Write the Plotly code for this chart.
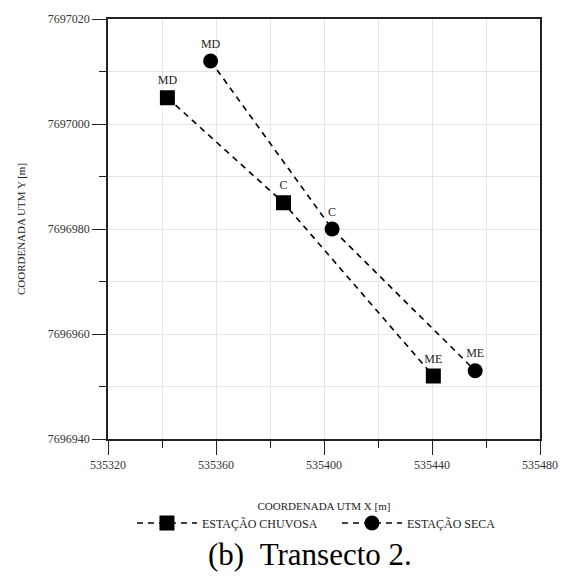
import plotly.graph_objects as go

# Data
labels = ["MD", "C", "ME"]
chuvosa_x = [535342, 535385, 535440.5]
chuvosa_y = [7697005, 7696985, 7696952]
seca_x = [535358, 535403, 535456]
seca_y = [7697012, 7696980, 7696953]

x_range = [535320, 535480]
y_range = [7696940, 7697020]

FONT = "Liberation Serif"

fig = go.Figure()
fig.add_trace(go.Scatter(
    x=chuvosa_x, y=chuvosa_y, mode="lines+markers+text", text=labels,
    textposition="top center", textfont=dict(family=FONT, size=12, color="#222"),
    name="ESTAÇÃO CHUVOSA",
    line=dict(color="black", width=1.6, dash="6px,5px"),
    marker=dict(symbol="square", size=15, color="black"),
))
fig.add_trace(go.Scatter(
    x=seca_x, y=seca_y, mode="lines+markers+text", text=labels,
    textposition="top center", textfont=dict(family=FONT, size=12, color="#222"),
    name="ESTAÇÃO SECA",
    line=dict(color="black", width=1.6, dash="6px,5px"),
    marker=dict(symbol="circle", size=15, color="black"),
))

axis_common = dict(
    showline=True, linecolor="#222", linewidth=1.5, mirror=True,
    showgrid=True, gridcolor="#e6e6e6", gridwidth=1,
    ticks="outside", ticklen=14, tickcolor="#222", tickwidth=1,
    tickfont=dict(family=FONT, size=12, color="#333"),
    zeroline=False,
    tickformat="d",
)

fig.update_xaxes(
    range=x_range, dtick=40, tick0=535320,
    minor=dict(dtick=20, tick0=535320, ticks="outside", ticklen=7, tickcolor="#222",
               showgrid=True, gridcolor="#e6e6e6"),
    title=dict(text="COORDENADA UTM X [m]", font=dict(family=FONT, size=11, color="#222"),
               standoff=31),
    **axis_common,
)
fig.update_yaxes(
    range=y_range, dtick=20, tick0=7696940,
    minor=dict(dtick=10, tick0=7696940, ticks="outside", ticklen=7, tickcolor="#222",
               showgrid=True, gridcolor="#e6e6e6"),
    title=dict(text="COORDENADA UTM Y [m]", font=dict(family=FONT, size=11, color="#222"),
               standoff=20),
    **axis_common,
)

fig.add_annotation(
    text="(b)\u00a0\u00a0Transecto 2.", xref="paper", yref="paper", x=0.4676, y=-0.276,
    xanchor="center", yanchor="middle", showarrow=False,
    font=dict(family=FONT, size=31, color="black"),
)

fig.update_layout(
    width=570, height=577,
    margin=dict(l=108, r=30, t=12, b=138),
    paper_bgcolor="white", plot_bgcolor="white",
    font=dict(family=FONT, color="#222"),
    showlegend=True,
    legend=dict(orientation="h", x=0.53, xanchor="center", y=-0.2, yanchor="middle",
                font=dict(family=FONT, size=12, color="#222"), itemwidth=60,
                entrywidth=130, bgcolor="rgba(0,0,0,0)"),
)

fig.write_html("out.html")
